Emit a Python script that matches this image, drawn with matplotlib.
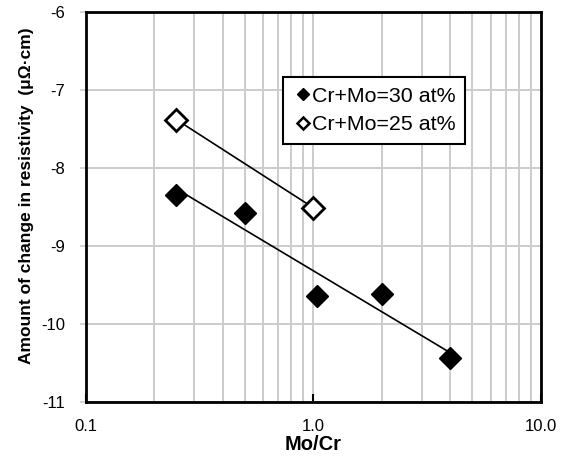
import numpy as np
import matplotlib
matplotlib.use("Agg")
import matplotlib.pyplot as plt
from matplotlib.ticker import FixedLocator, NullFormatter

plt.rcParams['font.family'] = ['Liberation Sans', 'DejaVu Sans']
plt.rcParams['axes.unicode_minus'] = False

# data
ratio_30 = [0.25, 0.5, 1.04, 2.0, 4.0]
drho_30 = [-8.34, -8.58, -9.64, -9.62, -10.44]
ratio_25 = [0.25, 1.0]
drho_25 = [-7.38, -8.51]

label_30 = "Cr+Mo=30 at%"
label_25 = "Cr+Mo=25 at%"
xticks = [0.1, 1.0, 10.0]
xtick_labels = ["0.1", "1.0", "10.0"]
yticks = [-11, -10, -9, -8, -7, -6]

fig = plt.figure(figsize=(5.65, 4.63), dpi=100)
ax = fig.add_axes([0.152, 0.1317, 0.8055, 0.8423])

ax.set_xscale('log')
ax.set_xlim(0.1, 10)
ax.set_ylim(-11, -6)

# log-linear trend lines between the end points
def trend(x, y):
    lx = np.log10(x)
    k, b = np.polyfit(lx, y, 1)
    xs = np.array([min(x), max(x)])
    return xs, k * np.log10(xs) + b

tx, ty = trend(ratio_30, drho_30)
ax.plot(tx, ty, color='black', lw=1.2, zorder=3)
tx, ty = trend(ratio_25, drho_25)
ax.plot(tx, ty, color='black', lw=1.2, zorder=3)

ax.plot(ratio_30, drho_30, linestyle='none', marker='D', ms=11,
        color='black', zorder=4)
ax.plot(ratio_25, drho_25, linestyle='none', marker='D', ms=11,
        mfc='white', mec='black', mew=2, zorder=4)

# legend with small markers
h1 = plt.Line2D([], [], linestyle='none', marker='D', ms=6.5, color='black')
h2 = plt.Line2D([], [], linestyle='none', marker='D', ms=6, mfc='white',
                mec='black', mew=1.8)
leg = ax.legend([h1, h2], [label_30, label_25], loc='upper left',
                bbox_to_anchor=(0.433, 0.833), fontsize=15.4, frameon=True,
                fancybox=False, framealpha=1, edgecolor='black',
                handlelength=1.0, handletextpad=-0.1, borderpad=0.45,
                labelspacing=0.45, borderaxespad=0)
leg.get_frame().set_linewidth(1.5)

ax.xaxis.set_major_locator(FixedLocator(xticks))
ax.set_xticklabels(xtick_labels)
ax.xaxis.set_minor_locator(FixedLocator(
    [m * d for d in (0.1, 1.0) for m in range(2, 10)]))
ax.xaxis.set_minor_formatter(NullFormatter())
ax.set_yticks(yticks)

ax.grid(True, which='both', axis='x', color='#cccccc', lw=1.4)
ax.grid(True, which='major', axis='y', color='#cccccc', lw=1.4)
ax.set_axisbelow(True)

ax.tick_params(axis='x', which='major', direction='in', length=6, width=1.5,
               labelsize=12, pad=12)
ax.tick_params(axis='x', which='minor', length=0)
ax.tick_params(axis='y', direction='out', length=4, width=1.2,
               color='#cccccc', labelsize=12, pad=11)

for s in ax.spines.values():
    s.set_linewidth(2)
    s.set_color('black')

ax.set_xlabel("Mo/Cr", fontsize=14.5, fontweight='bold', labelpad=1)
ax.set_ylabel("Amount of change in resistivity  (μΩ·cm)", fontsize=12.5,
              fontweight='bold', labelpad=5)
ax.yaxis.label.set_y(0.528)

fig.savefig("out.png", dpi=100)
